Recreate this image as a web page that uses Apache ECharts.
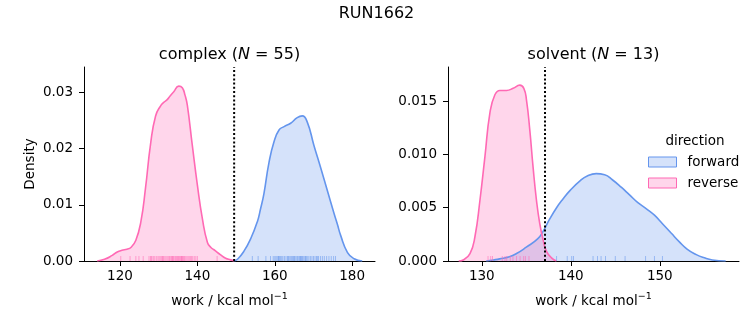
<!DOCTYPE html>
<html>
<head>
<meta charset="utf-8">
<script src="https://cdn.jsdelivr.net/npm/echarts@6/dist/echarts.min.js"></script>
<style>html,body{margin:0;padding:0;background:#fff}#c{width:753px;height:325px}</style>
</head>
<body>
<div id="c"></div>
<script>
// ---- data ----
const complexReverseX = [114.1,116.0,118.0,119.3,120.5,121.8,122.8,124.1,125.4,126.6,127.9,129.2,130.5,131.3,132.2,133.0,133.9,135.2,136.1,136.8,137.4,138.7,140.0,141.3,142.6,143.5,144.3,146.0,147.3,148.6,149.5];
const complexReverseY = [0,0.0003,0.0010,0.0016,0.0019,0.0021,0.0024,0.0037,0.0070,0.0130,0.0208,0.0258,0.0276,0.0282,0.0287,0.0294,0.0301,0.0311,0.0308,0.0295,0.0277,0.0205,0.0135,0.0075,0.0033,0.0024,0.0020,0.0011,0.0005,0.0002,0];
const complexForwardX = [149.5,150.5,152.0,153.8,155.5,156.3,157.2,158.5,159.8,161.1,162.4,164.1,165.8,167.1,168.4,170.1,171.9,173.6,175.3,176.2,177.0,178.8,180.5,182.6];
const complexForwardY = [0,0.0004,0.0017,0.0040,0.0070,0.0092,0.0120,0.0175,0.0212,0.0233,0.0239,0.0245,0.0255,0.0258,0.0247,0.0206,0.0165,0.0125,0.0085,0.0065,0.0046,0.0015,0.0004,0];
const solventReverseX = [127.4,127.9,128.67,129.23,129.79,130.35,130.91,131.47,132.03,132.78,133.52,134.27,134.72,135.02,135.39,135.76,136.14,136.51,136.88,137.27,137.83,138.39];
const solventReverseY = [0,0.0001,0.0007,0.0023,0.0057,0.0098,0.0139,0.0156,0.0160,0.0160,0.0162,0.0165,0.0162,0.0151,0.0123,0.0088,0.0057,0.0035,0.0020,0.0009,0.0003,0];
const solventForwardX = [130.5,131.3,132.0,133.1,133.9,135.0,136.3,136.9,137.6,138.4,139.1,139.9,141.0,141.9,142.85,143.8,144.7,145.7,146.6,147.5,148.5,149.4,150.3,151.3,152.2,153.1,154.1,155.0,155.9,157.4];
const solventForwardY = [0,0.0001,0.0002,0.0004,0.0007,0.0013,0.0021,0.0028,0.0039,0.0050,0.0058,0.0066,0.0075,0.0080,0.0082,0.0081,0.0076,0.0069,0.0062,0.0055,0.0049,0.0043,0.0035,0.0026,0.0018,0.0011,0.0006,0.0003,0.0001,0];
const complexReverseRug = [120.2,122.6,124.1,124.9,126.0,127.5,127.9,128.1,128.3,128.7,129.0,129.4,129.8,130.1,130.4,130.7,131.0,131.1,131.3,131.6,131.9,132.2,132.5,132.8,133.0,133.3,133.5,133.6,133.8,134.0,134.3,134.5,134.7,134.9,135.1,135.3,135.5,135.7,135.9,136.0,136.1,136.3,136.5,136.7,137.0,137.3,137.6,137.9,138.2,138.5,138.8,139.2,139.6,140.0,145.1];
const complexForwardRug = [154.2,155.7,157.7,158.9,159.6,160.0,160.3,160.6,160.9,161.0,161.2,161.5,161.8,162.1,162.5,162.9,163.3,163.5,163.7,164.0,164.3,164.6,164.9,165.0,165.2,165.5,165.8,166.0,166.3,166.5,166.7,166.8,167.0,167.2,167.5,167.8,168.0,168.1,168.4,168.8,169.2,169.6,170.0,170.4,170.8,171.0,171.3,171.8,172.3,172.8,173.4,174.0,174.6,175.2,175.7];
const solventReverseRug = [130.7,131.0,131.2,132.3,132.6,132.8,133.2,133.5,133.9,134.3,134.7,134.9,135.3];
const solventForwardRug = [138.4,139.6,140.1,140.3,142.5,143.0,143.4,143.9,145.0,146.1,148.4,149.4,150.3];
const complexCutoff = 149.5;
const solventCutoff = 137.1;
const complexXTicks = [120,140,160,180];
const solventXTicks = [130,140,150];
const complexYTicks = [0,0.01,0.02,0.03];
const solventYTicks = [0,0.005,0.010,0.015];
const seriesNames = ['forward','reverse'];

// ---- styling ----
const FONT = 'DejaVu Sans';
const BLUE = '#6495ED', PINK = '#FF69B4';
const BLUE_FILL = 'rgba(100,149,237,0.27)', PINK_FILL = 'rgba(255,105,180,0.27)';
const zip = (xs, ys) => xs.map((x, i) => [x, ys[i]]);

function kde(name, xs, ys, color, fill, idx) {
  return {
    type: 'line', name, data: zip(xs, ys), xAxisIndex: idx, yAxisIndex: idx,
    showSymbol: false, symbol: 'none', smooth: 0.5,
    lineStyle: {color, width: 1.6}, itemStyle: {color: fill, borderColor: color},
    areaStyle: {color: fill, opacity: 1}, z: 2
  };
}
function rug(name, vals, color, idx) {
  return {
    type: 'custom', name, xAxisIndex: idx, yAxisIndex: idx, z: 3,
    data: vals.map(v => [v, 0]),
    encode: {x: 0, y: 1},
    renderItem: (params, api) => {
      const p = api.coord([api.value(0), 0]);
      return {type: 'line', shape: {x1: p[0], y1: p[1], x2: p[0], y2: p[1] - 5},
              style: {stroke: color, lineWidth: 1, opacity: 0.55}};
    }
  };
}
function cutoff(v, ymax, idx) {
  return {
    type: 'line', data: [[v, 0], [v, ymax]], xAxisIndex: idx, yAxisIndex: idx,
    symbol: 'none', silent: true, z: 4,
    lineStyle: {color: '#000', width: 2, type: [2, 2.2]}
  };
}
function xAxis(idx, min, max, ticks) {
  return {
    type: 'value', gridIndex: idx, min, max,
    name: 'work / kcal mol{s|−1}', nameLocation: 'middle', nameGap: 31,
    nameTextStyle: {fontFamily: FONT, fontSize: 13.5, color: '#000',
      rich: {s: {fontFamily: FONT, fontSize: 9.5, color: '#000', verticalAlign: 'top', padding: [0, 0, 8, 0]}}},
    axisLine: {show: true, onZero: false, lineStyle: {color: '#000', width: 1}},
    axisTick: {show: true, length: 5, inside: false, customValues: ticks, lineStyle: {color: '#000', width: 1}},
    axisLabel: {customValues: ticks, fontFamily: FONT, fontSize: 13.5, color: '#000', margin: 8},
    splitLine: {show: false}
  };
}
function yAxis(idx, max, ticks, digits, withName) {
  return {
    type: 'value', gridIndex: idx, min: 0, max,
    name: withName ? 'Density' : '', nameLocation: 'middle', nameGap: 47,
    nameTextStyle: {fontFamily: FONT, fontSize: 13.5, color: '#000'},
    axisLine: {show: true, lineStyle: {color: '#000', width: 1}},
    axisTick: {show: true, length: 5, customValues: ticks, lineStyle: {color: '#000', width: 1}},
    axisLabel: {customValues: ticks, fontFamily: FONT, fontSize: 13.5, color: '#000', margin: 11,
      formatter: v => v.toFixed(digits)},
    splitLine: {show: false}
  };
}

const chart = echarts.init(document.getElementById('c'), null, {renderer: 'canvas'});
chart.setOption({
  backgroundColor: '#fff',
  animation: false,
  title: [
    {text: 'RUN1662', left: 376.5, top: 6, textAlign: 'center', padding: 0,
     textStyle: {fontFamily: FONT, fontSize: 16, fontWeight: 'normal', color: '#000'}},
    {text: 'complex ({i|N} = 55)', left: 229.5, top: 47, textAlign: 'center', padding: 0,
     textStyle: {fontFamily: FONT, fontSize: 16, fontWeight: 'normal', color: '#000',
       rich: {i: {fontFamily: FONT, fontSize: 16, fontStyle: 'italic', color: '#000'}}}},
    {text: 'solvent ({i|N} = 13)', left: 593.5, top: 47, textAlign: 'center', padding: 0,
     textStyle: {fontFamily: FONT, fontSize: 16, fontWeight: 'normal', color: '#000',
       rich: {i: {fontFamily: FONT, fontSize: 16, fontStyle: 'italic', color: '#000'}}}},
    {text: 'direction', left: 695, top: 134, textAlign: 'center', padding: 0,
     textStyle: {fontFamily: FONT, fontSize: 13.5, fontWeight: 'normal', color: '#000'}}
  ],
  legend: {
    orient: 'vertical', left: 648, top: 155, padding: 0,
    itemWidth: 28, itemHeight: 10, itemGap: 7,
    textStyle: {fontFamily: FONT, fontSize: 13.5, color: '#000', padding: [0, 0, 0, 6]},
    data: [
      {name: seriesNames[0], icon: 'rect', itemStyle: {color: BLUE_FILL, borderColor: BLUE, borderWidth: 1}},
      {name: seriesNames[1], icon: 'rect', itemStyle: {color: PINK_FILL, borderColor: PINK, borderWidth: 1}}
    ]
  },
  grid: [
    {left: 84, top: 67, width: 291, height: 194},
    {left: 448, top: 67, width: 291, height: 194}
  ],
  xAxis: [xAxis(0, 110.7, 185.9, complexXTicks), xAxis(1, 126.2, 158.9, solventXTicks)],
  yAxis: [yAxis(0, 0.0345, complexYTicks, 2, true), yAxis(1, 0.0182, solventYTicks, 3, false)],
  series: [
    kde(seriesNames[0], complexForwardX, complexForwardY, BLUE, BLUE_FILL, 0),
    kde(seriesNames[1], complexReverseX, complexReverseY, PINK, PINK_FILL, 0),
    kde(seriesNames[0], solventForwardX, solventForwardY, BLUE, BLUE_FILL, 1),
    kde(seriesNames[1], solventReverseX, solventReverseY, PINK, PINK_FILL, 1),
    rug(seriesNames[0], complexForwardRug, BLUE, 0),
    rug(seriesNames[1], complexReverseRug, PINK, 0),
    rug(seriesNames[0], solventForwardRug, BLUE, 1),
    rug(seriesNames[1], solventReverseRug, PINK, 1),
    cutoff(complexCutoff, 0.0345, 0),
    cutoff(solventCutoff, 0.0182, 1)
  ]
});
</script>
</body>
</html>
